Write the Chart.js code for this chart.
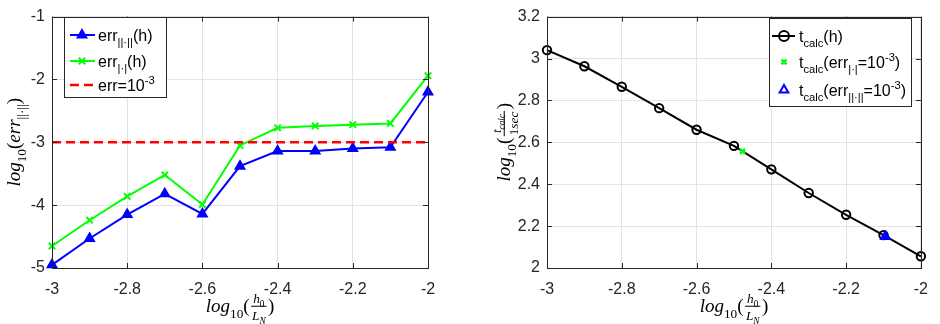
<!DOCTYPE html>
<html>
<head>
<meta charset="utf-8">
<script src="https://cdn.jsdelivr.net/npm/chart.js@4.4.1/dist/chart.umd.min.js"></script>
<style>
html, body { margin: 0; padding: 0; background: #fff; }
#wrap { position: relative; width: 940px; height: 324px; }
canvas { position: absolute; top: 0; }
#left { left: 0; }
#right { left: 470px; }
</style>
</head>
<body>
<div id="wrap">
  <canvas id="left" width="470" height="324"></canvas>
  <canvas id="right" width="470" height="324"></canvas>
</div>
<script>
// log10(h0/LN)
const logH = [-3, -2.9, -2.8, -2.7, -2.6, -2.5, -2.4, -2.3, -2.2, -2.1, -2];
// log10(err) for ||.|| and |.| norms
const errNorm = [-4.95, -4.53, -4.15, -3.82, -4.14, -3.38, -3.14, -3.14, -3.10, -3.08, -2.20];
const errAbs = [-4.65, -4.24, -3.86, -3.52, -3.99, -3.05, -2.77, -2.74, -2.72, -2.70, -1.94];
const threshold = -3;
// log10(t_calc / 1 sec)
const tCalc = [3.04, 2.963, 2.865, 2.763, 2.66, 2.583, 2.471, 2.358, 2.254, 2.157, 2.056];
// where each error reaches 10^-3
const hitAbs = [-2.477, 2.557];
const hitNorm = [-2.095, 2.15];

const xTicks = [-3, -2, 0.2];
const yTicksLeft = [-5, -1, 1];
const yTicksRight = [2, 3.2, 0.2];

const SANS = '"Liberation Sans", Arial, sans-serif';
const SERIF = '"Liberation Serif", "DejaVu Serif", serif';
const INK = '#262626';

function setFont(ctx, size, fam, it) {
  ctx.font = (it ? 'italic ' : '') + size.toFixed(1) + 'px ' + fam;
}

// tiny rich text: {t, it} | {sub:[..]} | {sup:[..]} | {frac:[num, den]}
function richWidth(ctx, parts, size, fam) {
  let w = 0;
  parts.forEach(p => {
    if (p.sub || p.sup) w += richWidth(ctx, p.sub || p.sup, size * 0.7, fam);
    else if (p.frac) w += fracWidth(ctx, p.frac, size, fam);
    else { setFont(ctx, size, fam, p.it); w += ctx.measureText(p.t).width; }
  });
  return w;
}
function fracWidth(ctx, f, size, fam) {
  return Math.max(richWidth(ctx, f[0], size * 0.7, fam), richWidth(ctx, f[1], size * 0.7, fam)) + size * 0.25;
}
function richDraw(ctx, parts, x, y, size, fam) {
  parts.forEach(p => {
    if (p.sub) x = richDraw(ctx, p.sub, x, y + size * 0.3, size * 0.7, fam);
    else if (p.sup) x = richDraw(ctx, p.sup, x, y - size * 0.42, size * 0.7, fam);
    else if (p.frac) {
      const s = size * 0.7, w = fracWidth(ctx, p.frac, size, fam);
      const wn = richWidth(ctx, p.frac[0], s, fam), wd = richWidth(ctx, p.frac[1], s, fam);
      richDraw(ctx, p.frac[0], x + (w - wn) / 2, y - size * 0.45, s, fam);
      richDraw(ctx, p.frac[1], x + (w - wd) / 2, y + size * 0.4, s, fam);
      ctx.fillRect(x + size * 0.08, y - size * 0.33, w - size * 0.16, 1);
      x += w;
    } else {
      setFont(ctx, size, fam, p.it);
      ctx.fillText(p.t, x, y);
      x += ctx.measureText(p.t).width;
    }
  });
  return x;
}

const fmt = v => String(Math.round(v * 10) / 10);

// box around the axes + inward ticks on all four sides
const framePlugin = {
  id: 'frame',
  afterDatasetsDraw(chart) {
    const { ctx, chartArea: a, scales: { x, y } } = chart;
    ctx.save();
    ctx.strokeStyle = INK;
    ctx.lineWidth = 1;
    ctx.beginPath();
    x.ticks.forEach(t => {
      const px = Math.round(x.getPixelForValue(t.value)) + 0.5;
      ctx.moveTo(px, a.bottom); ctx.lineTo(px, a.bottom - 5);
      ctx.moveTo(px, a.top); ctx.lineTo(px, a.top + 5);
    });
    y.ticks.forEach(t => {
      const py = Math.round(y.getPixelForValue(t.value)) + 0.5;
      ctx.moveTo(a.left, py); ctx.lineTo(a.left + 5, py);
      ctx.moveTo(a.right, py); ctx.lineTo(a.right - 5, py);
    });
    ctx.stroke();
    ctx.strokeRect(Math.round(a.left) + 0.5, Math.round(a.top) + 0.5,
      Math.round(a.right - a.left), Math.round(a.bottom - a.top));
    ctx.restore();
  }
};

function makeLegend(cfg) {
  return {
    id: 'richLegend',
    afterDraw(chart) {
      const ctx = chart.ctx;
      const [bx, by, bw, bh] = cfg.box;
      ctx.save();
      ctx.fillStyle = '#fff';
      ctx.fillRect(bx, by, bw, bh);
      ctx.strokeStyle = INK;
      ctx.lineWidth = 1;
      ctx.strokeRect(bx + 0.5, by + 0.5, bw, bh);
      cfg.rows.forEach(r => {
        const ds = chart.data.datasets[r.ds];
        if (ds.showLine) {
          ctx.strokeStyle = ds.borderColor;
          ctx.lineWidth = ds.borderWidth;
          ctx.setLineDash(ds.borderDash || []);
          ctx.beginPath();
          ctx.moveTo(cfg.lineX[0], r.y);
          ctx.lineTo(cfg.lineX[1], r.y);
          ctx.stroke();
          ctx.setLineDash([]);
        }
        if (ds.pointRadius > 0) {
          ctx.strokeStyle = ds.pointBorderColor;
          ctx.fillStyle = r.hollow ? 'rgba(0,0,0,0)' : ds.pointBackgroundColor;
          ctx.lineWidth = ds.pointBorderWidth;
          Chart.helpers.drawPoint(ctx, {
            pointStyle: ds.pointStyle, radius: r.radius || ds.pointRadius,
            borderWidth: ds.pointBorderWidth, rotation: 0
          }, cfg.markX, r.y);
        }
        ctx.fillStyle = '#000';
        ctx.textBaseline = 'alphabetic';
        richDraw(ctx, r.parts, cfg.textX, r.y + 6, 16, SANS);
      });
      ctx.restore();
    }
  };
}

function makeTitles(cfg) {
  return {
    id: 'titles',
    afterDraw(chart) {
      const ctx = chart.ctx, a = chart.chartArea;
      ctx.save();
      ctx.fillStyle = '#000';
      ctx.textBaseline = 'alphabetic';
      const w = richWidth(ctx, cfg.x, 19, SERIF);
      richDraw(ctx, cfg.x, (a.left + a.right) / 2 - w / 2, cfg.xBase, 19, SERIF);
      const h = richWidth(ctx, cfg.y, 19, SERIF);
      ctx.translate(cfg.yBase, (a.top + a.bottom) / 2 + h / 2);
      ctx.rotate(-Math.PI / 2);
      richDraw(ctx, cfg.y, 0, 0, 19, SERIF);
      ctx.restore();
    }
  };
}

function axes(yT, yWidth) {
  const tickFont = { family: SANS, size: 16 };
  return {
    x: {
      type: 'linear', min: xTicks[0], max: xTicks[1],
      ticks: { stepSize: xTicks[2], callback: fmt, color: INK, font: tickFont, padding: 12, maxRotation: 0 },
      grid: { color: '#e3e3e3', drawTicks: false },
      border: { display: false },
      afterFit: s => { s.height = 56; }
    },
    y: {
      type: 'linear', min: yT[0], max: yT[1],
      ticks: { stepSize: yT[2], callback: fmt, color: INK, font: tickFont, padding: 7 },
      grid: { color: '#e3e3e3', drawTicks: false },
      border: { display: false },
      afterFit: s => { s.width = yWidth; }
    }
  };
}

const pts = ys => logH.map((x, i) => ({ x, y: ys[i] }));
const common = {
  responsive: false, animation: false, events: [],
  plugins: { legend: { display: false }, tooltip: { enabled: false } }
};

const logParts = [{ t: 'log', it: 1 }, { sub: [{ t: '10' }] }, { t: '(' }];
const xTitle = logParts.concat([
  { frac: [[{ t: 'h', it: 1 }, { sub: [{ t: '0' }] }], [{ t: 'L', it: 1 }, { sub: [{ t: 'N', it: 1 }] }]] },
  { t: ')' }
]);

new Chart(document.getElementById('left'), {
  type: 'scatter',
  data: {
    datasets: [
      {
        data: pts(errNorm), showLine: true, borderColor: '#0000ff', borderWidth: 2,
        pointStyle: 'triangle', pointRadius: 5.5, pointBorderWidth: 1.5,
        pointBorderColor: '#0000ff', pointBackgroundColor: '#0000ff', order: 2, clip: false
      },
      {
        data: pts(errAbs), showLine: true, borderColor: '#00ff00', borderWidth: 2,
        pointStyle: 'crossRot', pointRadius: 4.5, pointBorderWidth: 2,
        pointBorderColor: '#00ff00', pointBackgroundColor: '#00ff00', order: 1, clip: false
      },
      {
        data: [{ x: xTicks[0], y: threshold }, { x: xTicks[1], y: threshold }],
        showLine: true, borderColor: '#ff0000', borderWidth: 2.5, borderDash: [9, 5],
        pointRadius: 0, order: 0
      }
    ]
  },
  options: Object.assign({}, common, {
    layout: { padding: { top: 10, right: 42, left: 0, bottom: 0 } },
    scales: axes(yTicksLeft, 52)
  }),
  plugins: [framePlugin, makeTitles({
    x: xTitle, xBase: 312, yBase: 20,
    y: logParts.concat([{ t: 'err', it: 1 }, { sub: [{ t: '||·||' }] }, { t: ')' }])
  }), makeLegend({
    box: [64, 17, 102, 80], lineX: [70, 95], markX: 82, textX: 98,
    rows: [
      { ds: 0, y: 35, parts: [{ t: 'err' }, { sub: [{ t: '||·||' }] }, { t: '(h)' }] },
      { ds: 1, y: 61, parts: [{ t: 'err' }, { sub: [{ t: '|·|' }] }, { t: '(h)' }] },
      { ds: 2, y: 85, parts: [{ t: 'err=10' }, { sup: [{ t: '-3' }] }] }
    ]
  })]
});

new Chart(document.getElementById('right'), {
  type: 'scatter',
  data: {
    datasets: [
      {
        data: pts(tCalc), showLine: true, borderColor: '#000', borderWidth: 2,
        pointStyle: 'circle', pointRadius: 4.2, pointBorderWidth: 2,
        pointBorderColor: '#000', pointBackgroundColor: 'rgba(0,0,0,0)', order: 2, clip: false
      },
      {
        data: [{ x: hitAbs[0], y: hitAbs[1] }], showLine: false,
        pointStyle: 'crossRot', pointRadius: 3.5, pointBorderWidth: 2.5,
        pointBorderColor: '#00ff00', pointBackgroundColor: '#00ff00', order: 1
      },
      {
        data: [{ x: hitNorm[0], y: hitNorm[1] }], showLine: false,
        pointStyle: 'triangle', pointRadius: 5, pointBorderWidth: 2,
        pointBorderColor: '#0000ff', pointBackgroundColor: '#0000ff', order: 0
      }
    ]
  },
  options: Object.assign({}, common, {
    layout: { padding: { top: 10, right: 16, left: 0, bottom: 0 } },
    scales: axes(yTicksRight, 77)
  }),
  plugins: [framePlugin, makeTitles({
    x: xTitle, xBase: 312, yBase: 40,
    y: logParts.concat([
      { frac: [[{ t: 't', it: 1 }, { sub: [{ t: 'calc', it: 1 }] }], [{ t: '1' }, { t: 'sec', it: 1 }]] },
      { t: ')' }
    ])
  }), makeLegend({
    box: [299, 18, 142, 88], lineX: [302, 325], markX: 314, textX: 329,
    rows: [
      { ds: 0, y: 36, radius: 5, parts: [{ t: 't' }, { sub: [{ t: 'calc' }] }, { t: '(h)' }] },
      { ds: 1, y: 62, parts: [{ t: 't' }, { sub: [{ t: 'calc' }] }, { t: '(err' }, { sub: [{ t: '|·|' }] }, { t: '=10' }, { sup: [{ t: '-3' }] }, { t: ')' }] },
      { ds: 2, y: 90, hollow: true, parts: [{ t: 't' }, { sub: [{ t: 'calc' }] }, { t: '(err' }, { sub: [{ t: '||·||' }] }, { t: '=10' }, { sup: [{ t: '-3' }] }, { t: ')' }] }
    ]
  })]
});
</script>
</body>
</html>
